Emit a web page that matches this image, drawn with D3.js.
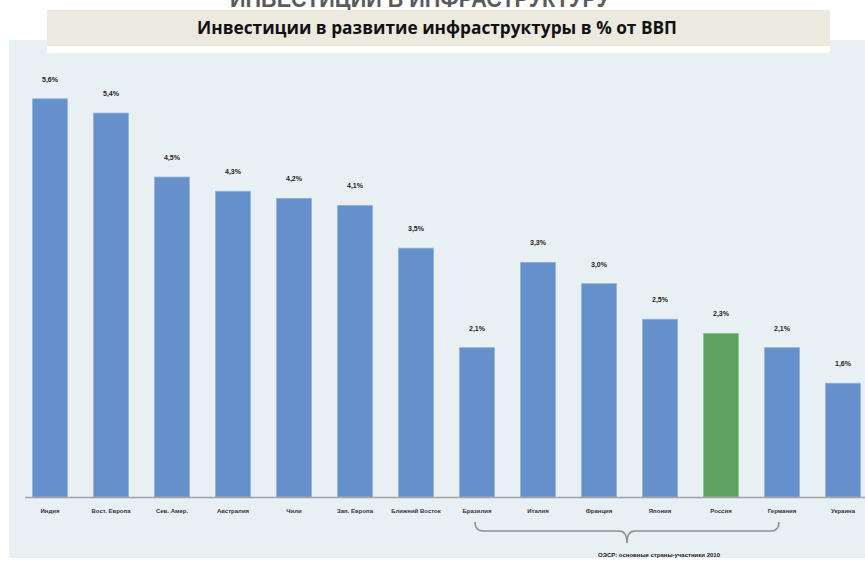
<!DOCTYPE html>
<html>
<head>
<meta charset="utf-8">
<script src="https://cdn.jsdelivr.net/npm/d3@7/dist/d3.min.js"></script>
<style>
  html, body { margin: 0; padding: 0; background: #ffffff; }
  svg { display: block; }
</style>
</head>
<body>
<svg id="chart" width="865" height="562"></svg>
<script>
// Infrastructure investment, % of GDP
const countries = ["Индия", "Вост. Европа", "Сев. Амер.", "Австралия", "Чили", "Зап. Европа",
  "Ближний Восток", "Бразилия", "Италия", "Франция", "Япония", "Россия", "Германия", "Украина"];
const shares = [5.6, 5.4, 4.5, 4.3, 4.2, 4.1, 3.5, 2.1, 3.3, 3.0, 2.5, 2.3, 2.1, 1.6];
const highlighted = ["Россия"];
const bracketGroup = ["Бразилия", "Германия"];
const bracketLabel = "ОЭСР: основные страны-участники 2010";
const pageHeading = "ИНВЕСТИЦИИ В ИНФРАСТРУКТУРУ";
const chartTitle = "Инвестиции в развитие инфраструктуры в % от ВВП";

const svg = d3.select("#chart");
const fmt = v => d3.format(".1f")(v).replace(".", ",") + "%";

// page heading, mostly above the visible sheet
svg.append("text")
  .attr("x", 420).attr("y", 7)
  .attr("text-anchor", "middle")
  .attr("font-family", "Liberation Sans, Arial, sans-serif")
  .attr("font-weight", "bold").attr("font-size", 24)
  .attr("fill", "#5b5b5b")
  .attr("textLength", 380).attr("lengthAdjust", "spacingAndGlyphs")
  .text(pageHeading);

// chart panel
svg.append("rect")
  .attr("x", 9).attr("y", 40).attr("width", 870).attr("height", 518)
  .attr("fill", "#e9f0f4");

// title banner
svg.append("rect")
  .attr("x", 47).attr("y", 46).attr("width", 783).attr("height", 7)
  .attr("fill", "#ffffff");
svg.append("rect")
  .attr("x", 47).attr("y", 10).attr("width", 783).attr("height", 36)
  .attr("fill", "#ece9df");
svg.append("text")
  .attr("x", 437).attr("y", 34)
  .attr("text-anchor", "middle")
  .attr("font-family", "Open Sans, Liberation Sans, sans-serif")
  .attr("font-weight", "bold").attr("font-size", 17)
  .attr("fill", "#111")
  .attr("textLength", 480).attr("lengthAdjust", "spacingAndGlyphs")
  .text(chartTitle);

const x = d3.scaleBand()
  .domain(countries)
  .range([19.5, 873.5])
  .paddingInner(0.43)
  .paddingOuter(0.215);

const y = d3.scaleLinear()
  .domain([0, 7])
  .range([497, -0.7]);

const data = countries.map((c, i) => ({ c, v: shares[i] }));

// bars
svg.append("g").selectAll("rect")
  .data(data).join("rect")
  .attr("x", d => x(d.c))
  .attr("y", d => y(d.v))
  .attr("width", x.bandwidth())
  .attr("height", d => y(0) - y(d.v))
  .attr("fill", d => highlighted.includes(d.c) ? "#5fa160" : "#6690cb")
  .attr("stroke", d => highlighted.includes(d.c) ? "#8cc08c" : "#8fb0dc")
  .attr("stroke-width", 0.8);

// value labels
svg.append("g").selectAll("text")
  .data(data).join("text")
  .attr("x", d => x(d.c) + x.bandwidth() / 2)
  .attr("y", d => y(d.v) - 17)
  .attr("text-anchor", "middle")
  .attr("font-family", "Liberation Sans, Arial, sans-serif")
  .attr("font-weight", "bold").attr("font-size", 7)
  .attr("fill", "#222")
  .text(d => fmt(d.v));

// category axis
const axis = svg.append("g")
  .attr("transform", `translate(0,${y(0)})`)
  .call(d3.axisBottom(x).tickSize(0).tickPadding(12));
axis.select(".domain")
  .attr("d", "M25,0.5H880")
  .attr("stroke", "#a0a4a8").attr("stroke-width", 1.5);
axis.selectAll("text")
  .attr("font-family", "Liberation Sans, Arial, sans-serif")
  .attr("font-weight", "bold").attr("font-size", 6)
  .attr("fill", "#333");

// brace under the grouped countries
const bx0 = x(bracketGroup[0]) + x.bandwidth() / 2 - 2;
const bx1 = x(bracketGroup[1]) + x.bandwidth() / 2 - 3;
const bm = (bx0 + bx1) / 2;
const braceTop = 522, braceMid = 531, braceTip = 543, r = 8;
const brace = d3.path();
brace.moveTo(bx0, braceTop);
brace.quadraticCurveTo(bx0, braceMid, bx0 + r, braceMid);
brace.lineTo(bm - r, braceMid);
brace.quadraticCurveTo(bm, braceMid, bm, braceTip);
brace.quadraticCurveTo(bm, braceMid, bm + r, braceMid);
brace.lineTo(bx1 - r, braceMid);
brace.quadraticCurveTo(bx1, braceMid, bx1, braceTop);
svg.append("path")
  .attr("d", brace.toString())
  .attr("fill", "none")
  .attr("stroke", "#8e8e8e")
  .attr("stroke-width", 1.6);

svg.append("text")
  .attr("x", 659).attr("y", 557)
  .attr("text-anchor", "middle")
  .attr("font-family", "Liberation Sans, Arial, sans-serif")
  .attr("font-weight", "bold").attr("font-size", 6)
  .attr("fill", "#222")
  .text(bracketLabel);
</script>
</body>
</html>
